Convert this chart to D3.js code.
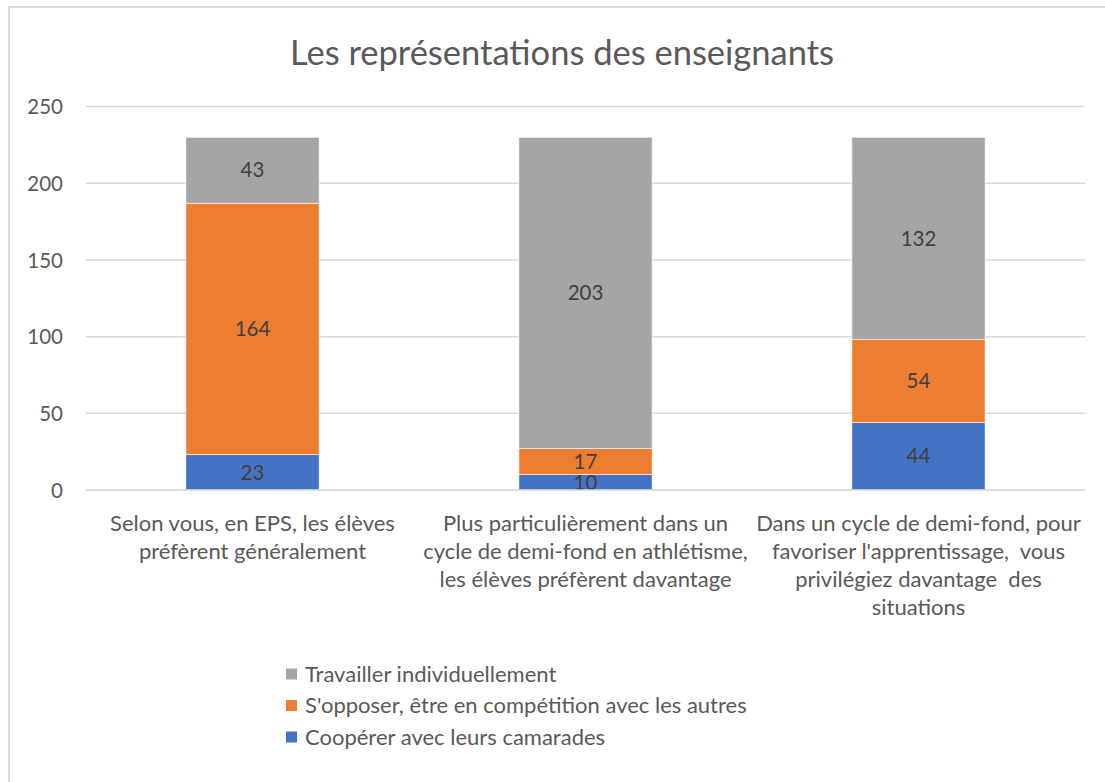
<!DOCTYPE html>
<html><head><meta charset="utf-8">
<script src="https://cdn.jsdelivr.net/npm/d3@7"></script>
<style>body{margin:0;background:#fff}svg{display:block}text{font-family:Lato,"Open Sans",sans-serif}</style>
</head><body>
<script>
const categories = [
  ["Selon vous, en EPS, les élèves", "préfèrent généralement"],
  ["Plus particulièrement dans un", "cycle de demi-fond en athlétisme,", "les élèves préfèrent davantage"],
  ["Dans un cycle de demi-fond, pour", "favoriser l'apprentissage,  vous", "privilégiez davantage  des", "situations"]
];
const seriesNames = ["Coopérer avec leurs camarades", "S'opposer, être en compétition avec les autres", "Travailler individuellement"];
const cooperer = [23, 10, 44];
const opposer = [164, 17, 54];
const individuel = [43, 203, 132];
const yTicks = [0, 50, 100, 150, 200, 250];
const colors = ["#4472C4", "#ED7D31", "#A5A5A5"];
const title = "Les représentations des enseignants";

const W = 1105, H = 782;
const svg = d3.select("body").append("svg").attr("width", W).attr("height", H);
svg.append("rect").attr("x", 9).attr("y", 7).attr("width", W).attr("height", H)
  .attr("fill", "#fff").attr("stroke", "#d9d9d9").attr("stroke-width", 2);

svg.append("text").attr("x", 562).attr("y", 65).attr("text-anchor", "middle")
  .attr("font-size", 34.5).attr("fill", "#595959").text(title);

const x0 = 86, x1 = 1085;
const x = d3.scaleBand().domain(d3.range(categories.length)).range([x0, x1]).paddingInner(0.6).paddingOuter(0.3);
const y = d3.scaleLinear().domain([0, 250]).range([490, 106.6]);

const grid = svg.append("g");
grid.selectAll("line").data(yTicks).join("line")
  .attr("x1", x0).attr("x2", x1).attr("y1", d => y(d)).attr("y2", d => y(d))
  .attr("stroke", "#d9d9d9").attr("stroke-width", 1.5);

const yAxis = d3.axisLeft(y).tickValues(yTicks).tickSize(0).tickPadding(0);
const ya = svg.append("g").attr("transform", "translate(63,0)").call(yAxis);
ya.select(".domain").remove();
ya.selectAll("text").attr("font-size", 20.5).attr("fill", "#595959").attr("font-family", "Lato,'Open Sans',sans-serif").attr("dy", "0.35em");

const rows = categories.map((c, i) => ({i, v0: cooperer[i], v1: opposer[i], v2: individuel[i]}));
const stack = d3.stack().keys(["v0", "v1", "v2"])(rows);

stack.forEach((layer, k) => {
  const g = svg.append("g");
  g.selectAll("rect").data(layer).join("rect")
    .attr("x", d => x(d.data.i)).attr("width", x.bandwidth())
    .attr("y", d => y(d[1])).attr("height", d => y(d[0]) - y(d[1]))
    .attr("fill", colors[k]).attr("stroke", "#fff").attr("stroke-width", 0.6);
  g.selectAll("text").data(layer).join("text")
    .attr("x", d => x(d.data.i) + x.bandwidth() / 2)
    .attr("y", d => (y(d[0]) + y(d[1])) / 2).attr("dy", "0.35em")
    .attr("text-anchor", "middle").attr("font-size", 20.5).attr("fill", "#404040")
    .text(d => d[1] - d[0]);
});

svg.append("line").attr("x1", x0).attr("x2", x1).attr("y1", y(0)).attr("y2", y(0))
  .attr("stroke", "#d9d9d9").attr("stroke-width", 1.5);

const xl = svg.append("g");
categories.forEach((lines, i) => {
  const cx = x(i) + x.bandwidth() / 2;
  const t = xl.append("text").attr("x", cx).attr("y", 530)
    .attr("text-anchor", "middle").attr("font-size", 22).attr("fill", "#595959");
  lines.forEach((l, j) => t.append("tspan").attr("x", cx).attr("y", 530.5 + j * 28).attr("xml:space", "preserve").text(l));
});

const legendOrder = [2, 1, 0];
const lg = svg.append("g");
legendOrder.forEach((k, r) => {
  const cy = 674 + r * 31.5;
  lg.append("rect").attr("x", 286).attr("y", cy - 5.5).attr("width", 11).attr("height", 11).attr("fill", colors[k]);
  lg.append("text").attr("x", 305).attr("y", cy).attr("dy", "0.35em").attr("font-size", 22).attr("fill", "#595959").text(seriesNames[k]);
});
</script>
</body></html>
